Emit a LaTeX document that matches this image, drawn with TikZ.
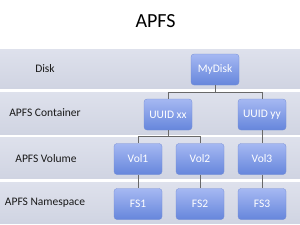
\documentclass[tikz,border=0pt]{standalone}
\usepackage{fontspec}
\setmainfont{Carlito}
\definecolor{bandtop}{RGB}{222,225,236}
\definecolor{bandbot}{RGB}{208,212,226}
\definecolor{boxtop}{RGB}{165,184,242}
\definecolor{boxbot}{RGB}{102,134,220}
\definecolor{boxedge}{RGB}{115,140,212}
\definecolor{linec}{RGB}{105,105,105}
\tikzset{
  band/.style={draw=none, top color=bandtop, bottom color=bandbot, minimum width=300pt, inner sep=0pt, anchor=north west},
  rowlabel/.style={font=\fontsize{11.5}{13}\selectfont, text=black!90},
  item/.style={rounded corners=3pt, draw=boxedge, line width=0.3pt, top color=boxtop, bottom color=boxbot,
    minimum width=48pt, minimum height=31pt, inner sep=0pt, text=white, font=\fontsize{11.5}{13}\selectfont},
  conn/.style={draw=linec, line width=0.5pt}
}
\begin{document}
\begin{tikzpicture}[x=1pt,y=-1pt]
\useasboundingbox (0,0) rectangle (300,225);
\fill[white] (0,0) rectangle (300,225);
\node[font=\fontsize{20}{24}\selectfont] (title) at (155.5,21.5) {APFS};
% bands
\node[band, minimum height=39pt] (bdisk) at (0,49) {};
\node[band, minimum height=42pt] (bcont) at (0,92) {};
\node[band, minimum height=41pt] (bvol) at (0,137) {};
\node[band, minimum height=41pt] (bns) at (0,182) {};
% labels
\node[rowlabel] (ldisk) at (45,69) {Disk};
\node[rowlabel] (lcont) at (45,113) {APFS Container};
\node[rowlabel] (lvol) at (46,158.5) {APFS Volume};
\node[rowlabel] (lns) at (45,202.5) {APFS Namespace};
% boxes
\node[item] (mydisk) at (215,69.5) {MyDisk};
\node[item] (uuidxx) at (168,114.5) {UUID xx};
\node[item] (uuidyy) at (262,114.5) {UUID yy};
\node[item] (vol1) at (138,159) {Vol1};
\node[item] (vol2) at (200,159) {Vol2};
\node[item] (vol3) at (262,159) {Vol3};
\node[item] (fs1) at (138,204) {FS1};
\node[item] (fs2) at (200,204) {FS2};
\node[item] (fs3) at (262,204) {FS3};
% connectors
\coordinate (j1) at (215,92);
\coordinate (j2) at (168,136.5);
\draw[conn] (mydisk.south) -- (j1) -| (uuidxx.north);
\draw[conn] (j1) -| (uuidyy.north);
\draw[conn] (uuidxx.south) -- (j2) -| (vol1.north);
\draw[conn] (j2) -| (vol2.north);
\draw[conn] (uuidyy.south) -- (vol3.north);
\draw[conn] (vol1.south) -- (fs1.north);
\draw[conn] (vol2.south) -- (fs2.north);
\draw[conn] (vol3.south) -- (fs3.north);
\end{tikzpicture}
\end{document}
